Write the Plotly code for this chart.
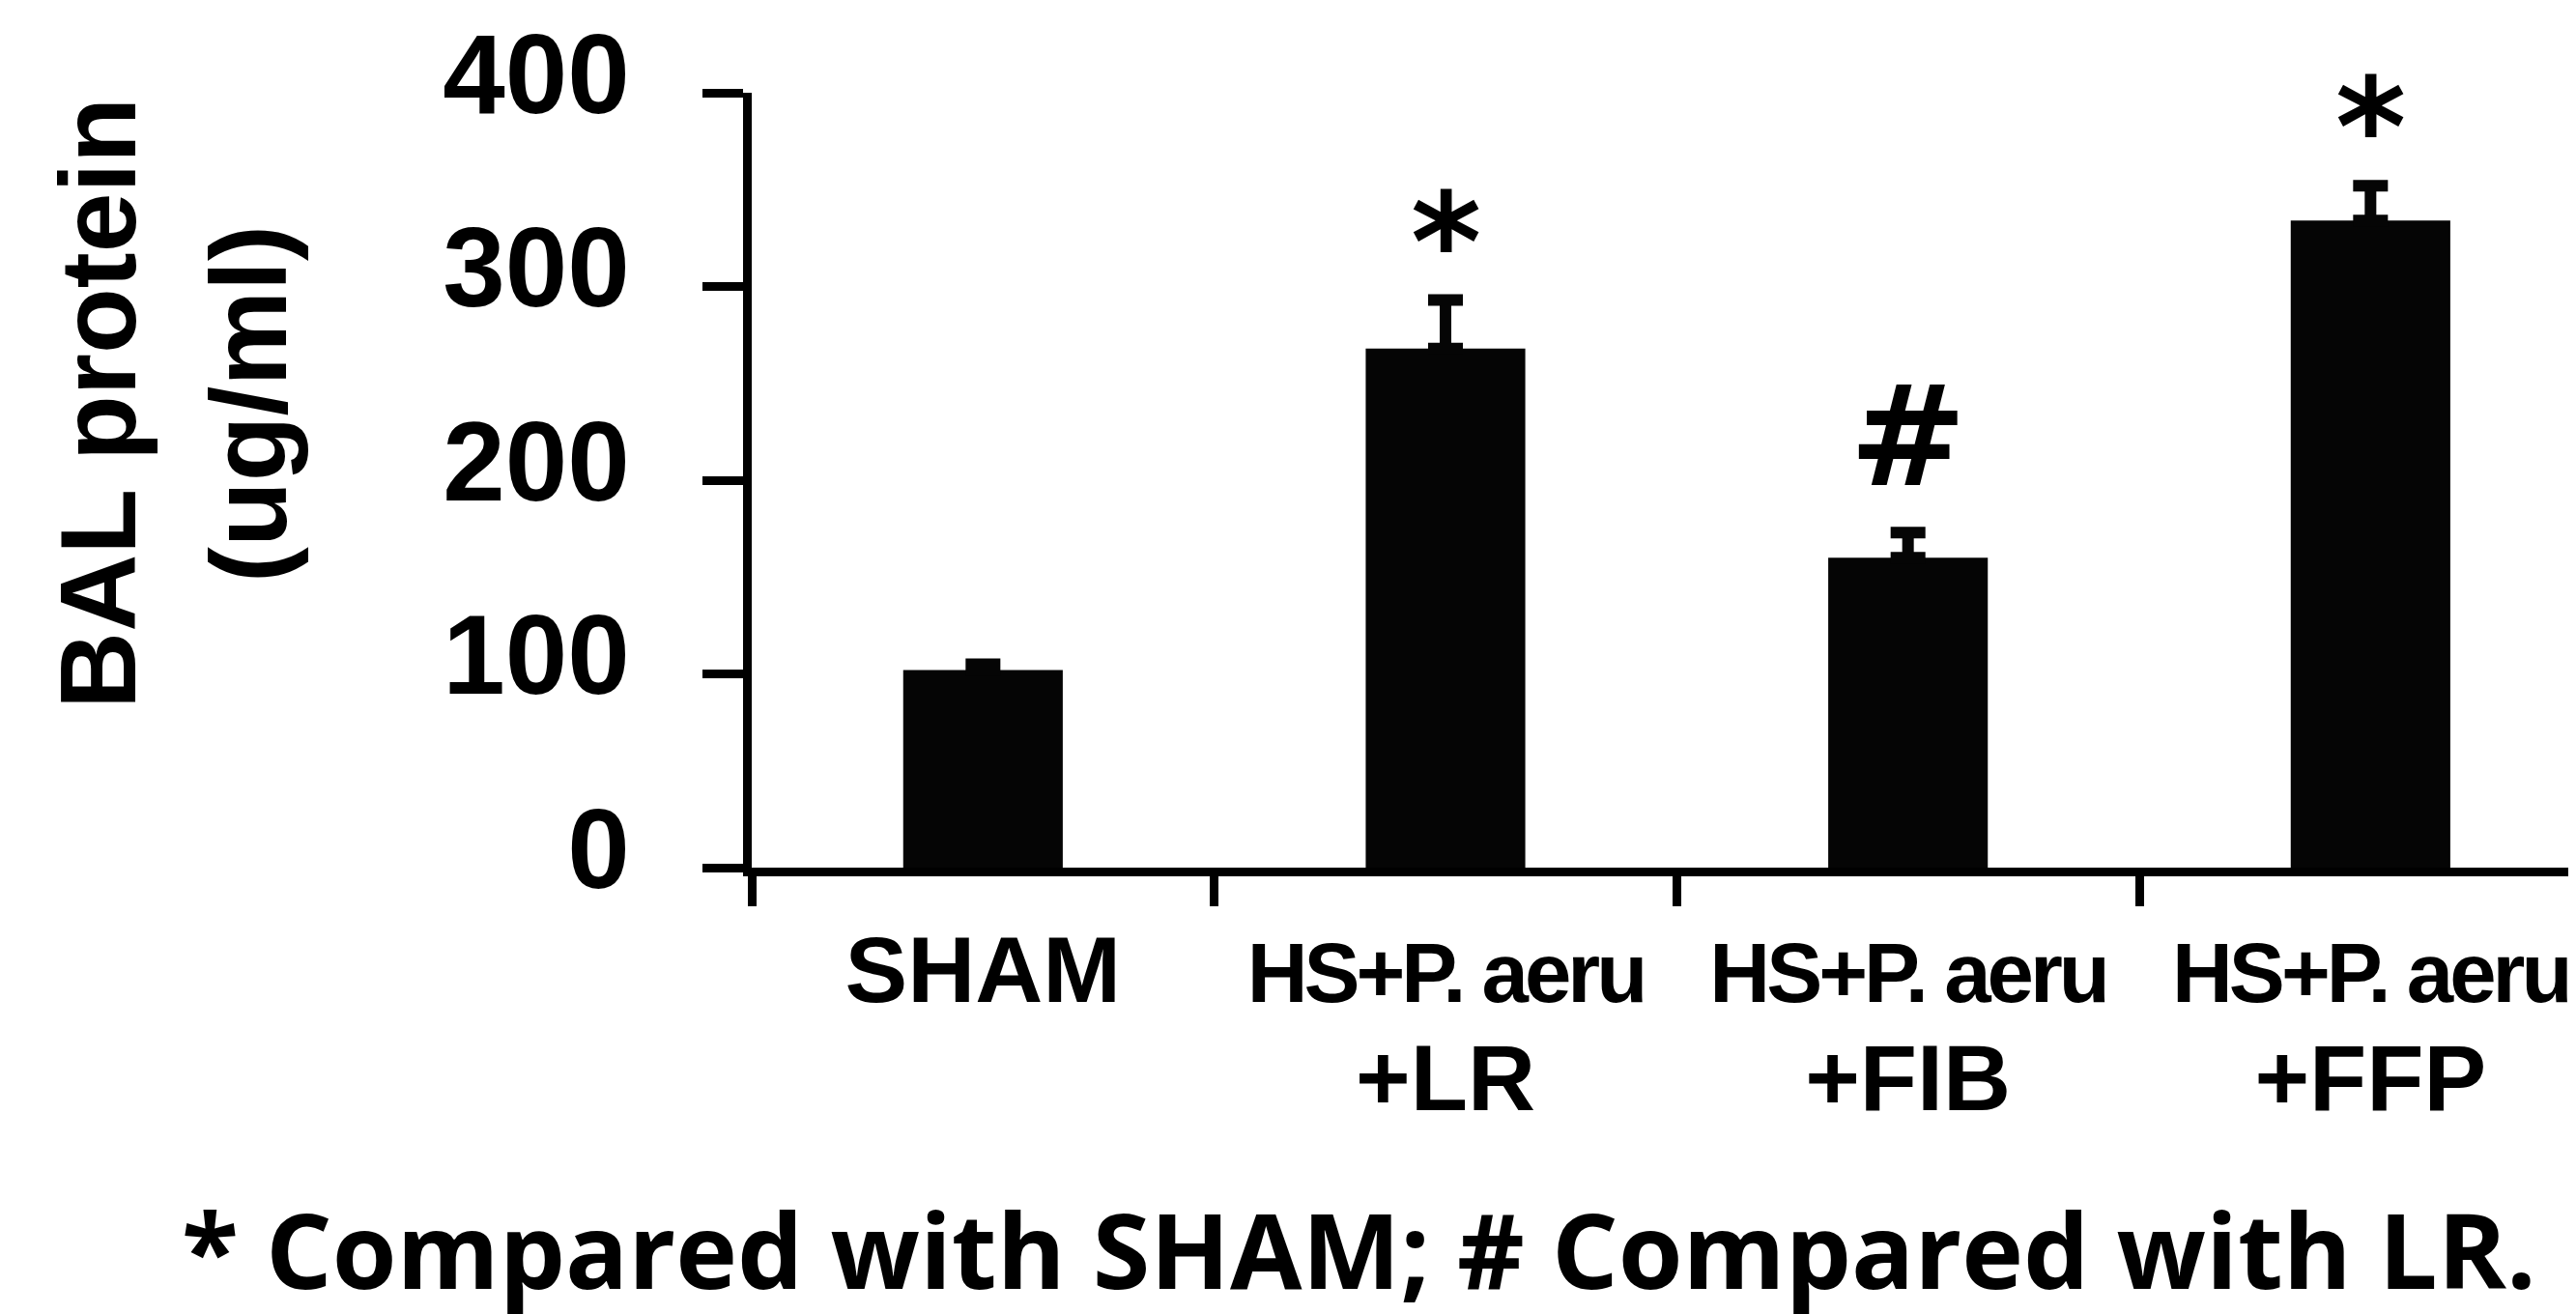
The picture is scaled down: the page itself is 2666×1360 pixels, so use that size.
import plotly.graph_objects as go

# ---------------- data ----------------
categories = ["SHAM", "HS+P. aeru +LR", "HS+P. aeru +FIB", "HS+P. aeru +FFP"]
label_line1 = ["SHAM", "HS+P. aeru", "HS+P. aeru", "HS+P. aeru"]
label_line2 = ["", "+LR", "+FIB", "+FFP"]
means = [102, 268, 160, 334]
errors = [3, 25, 13, 18]
marks = ["", "*", "#", "*"]
y_ticks = [0, 100, 200, 300, 400]
y_title_lines = ["BAL protein", "(ug/ml)"]
footnote = "* Compared with SHAM; # Compared with LR."

# ---------------- layout geometry ----------------
FIG_W, FIG_H = 2666, 1360
L, R, T, B = 770, 0, 88, 470
PW, PH = FIG_W - L - R, FIG_H - T - B


def px_x(px):
    return (px - L) / PW


def px_y(py):
    return (FIG_H - B - py) / PH


def make_label(l1, l2):
    if not l2:
        return '<span style="font-size:97px">' + l1 + '</span>'
    return ('<span style="font-size:87px; letter-spacing:-4px">' + l1 + '</span>'
            '<br><span style="font-size:97px">' + l2 + '</span>')


tick_text = [make_label(a, b) for a, b in zip(label_line1, label_line2)]

fig = go.Figure()
fig.add_trace(go.Bar(
    x=categories,
    y=means,
    width=0.345,
    marker=dict(color="#050505", line=dict(width=0)),
    error_y=dict(type="data", array=errors, arrayminus=[0] * len(errors),
                 symmetric=False, color="#050505", thickness=12, width=18),
    showlegend=False,
))

mark_style = {"*": dict(size=140, shift=-24), "#": dict(size=145, shift=13)}
annotations = []
for c, m, e, s in zip(categories, means, errors, marks):
    if s:
        annotations.append(dict(
            x=c, y=m + e, xref="x", yref="y", text=s, showarrow=False,
            xanchor="center", yanchor="bottom", yshift=mark_style[s]["shift"],
            font=dict(family="DejaVu Sans", size=mark_style[s]["size"],
                      color="black", weight="bold"),
        ))

# y-axis title (two lines)
title_x = [94, 250]
for txt, xp in zip(y_title_lines, title_x):
    annotations.append(dict(
        x=px_x(xp), y=px_y(410), xref="paper", yref="paper", text=txt,
        showarrow=False, textangle=-90, xanchor="center", yanchor="middle",
        font=dict(family="Liberation Sans, Arial, sans-serif", size=111,
                  color="black", weight="bold"),
    ))

# footnote
annotations.append(dict(
    x=px_x(1398), y=px_y(1284), xref="paper", yref="paper", text=footnote,
    showarrow=False, xanchor="center", yanchor="middle",
    font=dict(family="Open Sans, sans-serif", size=108, color="black", weight="bold"),
))

fig.update_layout(
    width=FIG_W, height=FIG_H,
    margin=dict(l=L, r=R, t=T, b=B, pad=0, autoexpand=False),
    paper_bgcolor="white", plot_bgcolor="white",
    font=dict(family="Liberation Sans, Arial, sans-serif", color="black"),
    annotations=annotations,
)

fig.update_xaxes(
    type="category", range=[-0.5, 3.461], automargin=False,
    tickmode="array", tickvals=categories, ticktext=tick_text,
    tickson="boundaries", tickangle=0,
    showline=True, linecolor="black", linewidth=9,
    ticks="outside", ticklen=31, tickwidth=9, tickcolor="black",
    showgrid=False, zeroline=False,
    tickfont=dict(family="Liberation Sans, Arial, sans-serif", size=86,
                  color="black", weight="bold"),
    ticklabelstandoff=27,
)

fig.update_yaxes(
    range=[0, 400], tickmode="array", tickvals=y_ticks, automargin=False,
    showline=True, linecolor="black", linewidth=9,
    ticks="outside", ticklen=42, tickwidth=9, tickcolor="black",
    showgrid=False, zeroline=False,
    tickfont=dict(family="Liberation Sans, Arial, sans-serif", size=116,
                  color="black", weight="bold"),
    ticklabelstandoff=52, ticklabelshift=-20,
)

fig.write_html("out.html")
